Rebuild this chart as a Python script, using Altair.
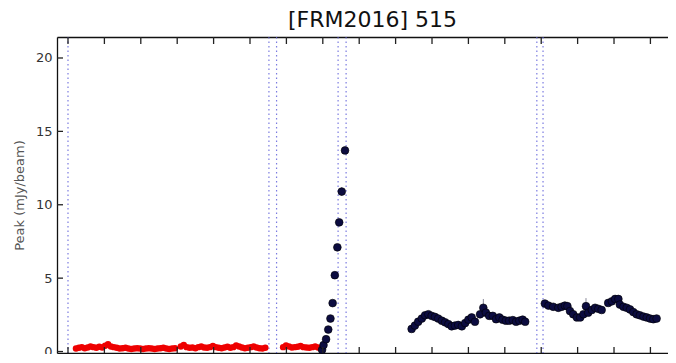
import altair as alt
import pandas as pd

# ---- data (x in arbitrary day units) ----
red_x = [2.2, 3.0, 3.8, 4.6, 5.4, 6.2, 7.0, 7.8, 8.6, 9.4, 10.2, 11.0, 11.8, 12.6, 13.4,
         14.2, 15.0, 15.8, 16.6, 17.4, 18.2, 19.0, 19.8, 20.6, 21.4, 22.2, 23.0, 23.8,
         24.6, 25.4, 26.2, 27.0, 27.8, 28.6, 29.4,
         31.0, 31.8, 32.6, 33.4, 34.2, 35.0, 35.8, 36.6, 37.4, 38.2, 39.0, 39.8, 40.6,
         41.4, 42.2, 43.0, 43.8, 44.6, 45.4, 46.2, 47.0, 47.8, 48.6, 49.4, 50.2, 51.0,
         51.8, 52.6, 53.4, 54.2,
         59.1, 59.9, 60.7, 61.5, 62.3, 63.1, 63.9, 64.7, 65.5, 66.3, 67.1, 67.9, 68.7, 69.4]
red_y = [0.20, 0.25, 0.30, 0.22, 0.28, 0.35, 0.30, 0.25, 0.32, 0.28, 0.40, 0.50, 0.35, 0.30,
         0.25, 0.20, 0.22, 0.25, 0.20, 0.18, 0.20, 0.22, 0.20, 0.18, 0.20, 0.22, 0.20, 0.18,
         0.20, 0.22, 0.25, 0.20, 0.18, 0.20, 0.22,
         0.35, 0.45, 0.30, 0.25, 0.28, 0.22, 0.30, 0.35, 0.28, 0.25, 0.30, 0.38, 0.30, 0.25,
         0.22, 0.28, 0.32, 0.25, 0.30, 0.42, 0.35, 0.28, 0.22, 0.25, 0.30, 0.35, 0.28, 0.22,
         0.20, 0.25,
         0.30, 0.42, 0.35, 0.28, 0.30, 0.32, 0.38, 0.30, 0.28, 0.25, 0.30, 0.35, 0.28, 0.22]

navy_x = [69.8, 70.2, 70.9, 71.5, 72.1, 72.7, 73.3, 74.0, 74.5, 75.2, 76.1,
          94.4, 95.3, 96.2, 97.2, 98.1, 99.0, 99.9, 100.8, 101.7, 102.7, 103.6, 104.5,
          105.4, 106.3, 107.2, 108.2, 109.1, 110.0, 110.9, 111.8, 113.2, 114.1, 114.8,
          115.7, 116.7, 117.6, 118.5, 119.4, 120.3, 121.2, 122.2, 123.1, 124.0, 124.9, 125.6,
          131.0, 132.0, 133.3, 134.7, 135.6, 136.5, 137.2, 137.9, 138.8, 139.8, 140.7,
          141.6, 142.3, 142.9, 143.9, 144.8, 145.7, 146.6, 148.4, 149.4, 150.3, 151.2,
          151.6, 152.6, 153.5, 154.4, 155.3, 156.2, 157.1, 158.1, 159.0, 159.9, 160.8, 161.7]
navy_y = [0.12, 0.44, 0.84, 1.50, 2.25, 3.30, 5.20, 7.10, 8.80, 10.90, 13.70,
          1.54, 1.77, 2.03, 2.25, 2.47, 2.54, 2.43, 2.36, 2.25, 2.10, 1.99, 1.87,
          1.72, 1.77, 1.81, 1.72, 1.94, 2.17, 2.32, 2.03, 2.54, 2.98, 2.65,
          2.43, 2.43, 2.20, 2.32, 2.17, 2.10, 2.10, 2.14, 2.03, 2.10, 2.17, 2.03,
          3.27, 3.13, 3.05, 2.98, 3.05, 3.13, 3.09, 2.76, 2.54, 2.32, 2.32,
          2.54, 3.09, 2.65, 2.83, 2.98, 2.91, 2.83, 3.31, 3.42, 3.58, 3.58,
          3.20, 3.05, 2.98, 2.87, 2.69, 2.54, 2.47, 2.38, 2.32, 2.25, 2.20, 2.25]
navy_err = [0.10, 0.10, 0.10, 0.10, 0.10, 0.12, 0.15, 0.20, 0.20, 0.30, 0.20,
            0.15, 0.15, 0.15, 0.15, 0.15, 0.15, 0.15, 0.15, 0.15, 0.15, 0.15, 0.15,
            0.15, 0.15, 0.15, 0.15, 0.15, 0.15, 0.15, 0.15, 0.20, 0.60, 0.20,
            0.15, 0.15, 0.15, 0.15, 0.15, 0.15, 0.15, 0.15, 0.15, 0.15, 0.15, 0.15,
            0.15, 0.15, 0.15, 0.15, 0.15, 0.15, 0.15, 0.15, 0.15, 0.15, 0.15,
            0.15, 0.55, 0.20, 0.15, 0.15, 0.15, 0.15, 0.20, 0.20, 0.20, 0.20,
            0.15, 0.15, 0.15, 0.15, 0.15, 0.15, 0.15, 0.15, 0.15, 0.15, 0.15, 0.15]

vline_x = [0.0, 55.2, 57.3, 74.2, 76.4, 128.8, 130.5]
x_ticks = [0, 10, 20, 30, 40, 50, 60, 70, 80, 90, 100, 110, 120, 130, 140, 150, 160]
y_ticks = [0, 5, 10, 15, 20]

W, H = 611, 316
xs = alt.Scale(domain=[-3.02, 164.83], nice=False, zero=False)
ys = alt.Scale(domain=[-0.10, 21.43], nice=False, zero=False)

red_df = pd.DataFrame({"x": red_x, "y": red_y})
navy_df = pd.DataFrame({"x": navy_x, "y": navy_y, "err": navy_err})
navy_df["lo"] = navy_df["y"] - navy_df["err"]
navy_df["hi"] = navy_df["y"] + navy_df["err"]
vl_df = pd.DataFrame({"x": vline_x})
xt_df = pd.DataFrame({"x": x_ticks})
yt_df = pd.DataFrame({"y": y_ticks})


def frame_axis(orient):
    return alt.Axis(orient=orient, labels=False, ticks=False, domain=True,
                    domainColor="#111", domainWidth=1.3, grid=False, title=None)


YAX = alt.Axis(values=y_ticks, title="Peak (mJy/beam)", grid=False,
               domain=True, domainColor="#111", domainWidth=1.3,
               ticks=False, labelPadding=5,
               labelFontSize=13, labelFont="DejaVu Sans", labelColor="#333",
               titleFontSize=13, titleFont="DejaVu Sans",
               titleFontWeight="normal", titleColor="#555", titlePadding=9)

XN = alt.X("x:Q", scale=xs, axis=None)
YA = alt.Y("y:Q", scale=ys, axis=YAX)

vlines = alt.Chart(vl_df).mark_rule(
    color="#5a5ad8", strokeWidth=1.2, strokeDash=[1.5, 3], opacity=0.8, clip=True
).encode(x=alt.X("x:Q", scale=xs, axis=frame_axis("top")))

errs = alt.Chart(navy_df).mark_rule(color="#8a8a9a", strokeWidth=1).encode(
    x=XN,
    y=alt.Y("lo:Q", scale=ys, axis=YAX),
    y2="hi:Q",
)

red = alt.Chart(red_df).mark_circle(
    size=42, color="#ee0000", opacity=1
).encode(
    x=alt.X("x:Q", scale=xs, axis=frame_axis("bottom")),
    y=YA,
)

navy = alt.Chart(navy_df).mark_point(
    shape="circle", filled=True, size=60, fill="#0c0c40", stroke="#000000",
    strokeWidth=0.6, opacity=1
).encode(x=XN, y=YA)

top_ticks = alt.Chart(xt_df).mark_rule(color="#222", strokeWidth=1.3).encode(
    x=XN, y=alt.value(0), y2=alt.value(7))
bot_ticks = alt.Chart(xt_df).mark_rule(color="#222", strokeWidth=1.3).encode(
    x=XN, y=alt.value(H - 6), y2=alt.value(H))
left_ticks = alt.Chart(yt_df).mark_rule(color="#222", strokeWidth=1.3).encode(
    y=YA, x=alt.value(0), x2=alt.value(6))

chart = alt.layer(vlines, errs, red, navy, top_ticks, bot_ticks, left_ticks).resolve_axis(
    x="independent"
).properties(
    width=W,
    height=H,
    autosize=alt.AutoSizeParams(type="none"),
    padding={"left": 49, "top": 29, "right": 0, "bottom": 1},
    title=alt.TitleParams("[FRM2016] 515", fontSize=22, font="DejaVu Sans",
                          fontWeight="normal", color="#111", anchor="middle",
                          offset=4, dx=10),
).configure_view(stroke=None).configure(background="white")

chart.save("out.html", embed_options={"renderer": "svg", "actions": False})
